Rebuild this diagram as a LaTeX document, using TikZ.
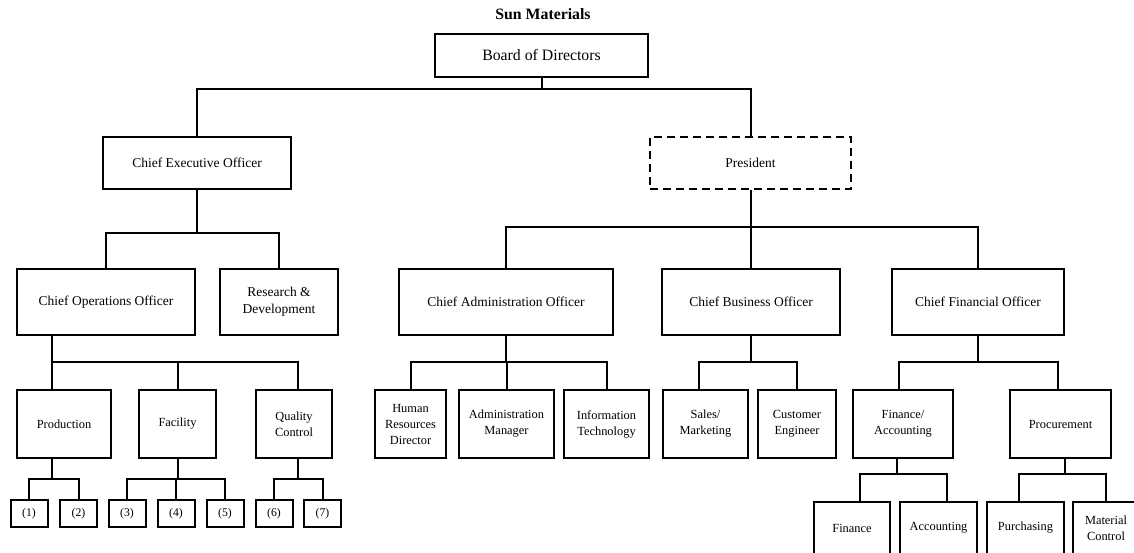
\documentclass[tikz,border=0pt]{standalone}
\usepackage{fontspec}
\setmainfont{Liberation Serif}
\usetikzlibrary{positioning}
\tikzstyle{block}     = [rectangle, draw=black, line width=2pt, align=center, inner sep=2pt,
    font=\fontsize{13.5}{17.5}\selectfont]
\tikzstyle{topblock}  = [block, font=\fontsize{15.8}{18}\selectfont]
\tikzstyle{headblock} = [block, minimum height=52pt]
\tikzstyle{offblock}  = [block, minimum height=66pt]
\tikzstyle{unitblock} = [block, minimum height=68pt, font=\fontsize{12.4}{16}\selectfont]
\tikzstyle{subblock}  = [unitblock, minimum height=52pt]
\tikzstyle{numblock}  = [block, minimum width=37pt, minimum height=27pt,
    font=\fontsize{11.7}{14}\selectfont]
\tikzstyle{vacant}    = [headblock, dash pattern=on 8pt off 5pt]

\begin{document}
\begin{tikzpicture}[x=1pt, y=-1pt, line width=2pt]
  \useasboundingbox (0,0) rectangle (1134,553);
  \clip (0,0) rectangle (1134,553);

  \node[font=\bfseries\fontsize{15.8}{18}\selectfont] (title) at (543,14) {Sun Materials};
  \node[topblock, minimum width=213pt, minimum height=43pt] (board) at (541.5,55.5) {Board of Directors};

  % second level
  \node[headblock, minimum width=188pt] (ceo)  at (197,163)   {Chief Executive Officer};
  \node[vacant,    minimum width=201pt] (pres) at (750.5,163) {President};

  % officers
  \node[offblock, minimum width=178pt] (coo) at (106,302)  {Chief Operations Officer};
  \node[offblock, minimum width=118pt] (rnd) at (279,302)  {Research \&\\Development};
  \node[offblock, minimum width=214pt] (cao) at (506,302)  {Chief Administration Officer};
  \node[offblock, minimum width=178pt] (cbo) at (751,302)  {Chief Business Officer};
  \node[offblock, minimum width=172pt] (cfo) at (978,302)  {Chief Financial Officer};

  % units
  \node[unitblock, minimum width=94pt]  (prod)  at (64,424)     {Production};
  \node[unitblock, minimum width=77pt]  (fac)   at (177.5,424)  {Facility};
  \node[unitblock, minimum width=76pt]  (qc)    at (294,424)    {Quality\\Control};
  \node[unitblock, minimum width=71pt]  (hr)    at (410.5,424)  {Human\\Resources\\Director};
  \node[unitblock, minimum width=95pt]  (adm)   at (506.5,424)  {Administration\\Manager};
  \node[unitblock, minimum width=85pt]  (it)    at (606.5,424)  {Information\\Technology};
  \node[unitblock, minimum width=85pt]  (sales) at (705.5,424)  {Sales/\\Marketing};
  \node[unitblock, minimum width=78pt]  (ce)    at (797,424)    {Customer\\Engineer};
  \node[unitblock, minimum width=100pt] (fa)    at (903,424)    {Finance/\\Accounting};
  \node[unitblock, minimum width=101pt] (proc)  at (1060.5,424) {Procurement};

  % numbered lines
  \node[numblock] (n1) at (29,513.5)    {(1)};
  \node[numblock] (n2) at (78.5,513.5)  {(2)};
  \node[numblock] (n3) at (127,513.5)   {(3)};
  \node[numblock] (n4) at (176,513.5)   {(4)};
  \node[numblock] (n5) at (225,513.5)   {(5)};
  \node[numblock] (n6) at (274,513.5)   {(6)};
  \node[numblock] (n7) at (322.5,513.5) {(7)};

  \node[subblock, minimum width=76pt] (fin) at (852,528)    {Finance};
  \node[subblock, minimum width=77pt] (acc) at (938.5,528)  {Accounting};
  \node[subblock, minimum width=77pt] (pur) at (1025.5,528) {Purchasing};
  \node[subblock, minimum width=66pt] (mat) at (1106,528)   {Material\\Control};

  \draw (board.south) -- ++(0,11) -| (ceo.north)
        (board.south) -- ++(0,11) -| (pres.north);
  \draw (ceo.south) -- ++(0,43) -| (coo.north)
        (ceo.south) -- ++(0,43) -| (rnd.north);
  \draw (pres.south) -- ++(0,37) -| (cao.north)
        (pres.south) -- ++(0,37) -| (cbo.north)
        (pres.south) -- ++(0,37) -| (cfo.north);
  \draw ([xshift=-54pt]coo.south) -- ++(0,26) -| ([xshift=-12pt]prod.north)
        ([xshift=-54pt]coo.south) -- ++(0,26) -| (fac.north)
        ([xshift=-54pt]coo.south) -- ++(0,26) -| ([xshift=4pt]qc.north);
  \draw (cao.south) -- ++(0,26) -| (hr.north)
        (cao.south) -- ++(0,26) -| (adm.north)
        (cao.south) -- ++(0,26) -| (it.north);
  \draw (cbo.south) -- ++(0,26) -| ([xshift=-7pt]sales.north)
        (cbo.south) -- ++(0,26) -| (ce.north);
  \draw (cfo.south) -- ++(0,26) -| ([xshift=-4pt]fa.north)
        (cfo.south) -- ++(0,26) -| ([xshift=-3pt]proc.north);
  \draw ([xshift=-12pt]prod.south) -- ++(0,20) -| (n1.north)
        ([xshift=-12pt]prod.south) -- ++(0,20) -| (n2.north);
  \draw (fac.south) -- ++(0,20) -| (n3.north)
        (fac.south) -- ++(0,20) -| (n4.north)
        (fac.south) -- ++(0,20) -| (n5.north);
  \draw ([xshift=4pt]qc.south) -- ++(0,20) -| (n6.north)
        ([xshift=4pt]qc.south) -- ++(0,20) -| (n7.north);
  \draw ([xshift=-6pt]fa.south) -- ++(0,15) -| ([xshift=8pt]fin.north)
        ([xshift=-6pt]fa.south) -- ++(0,15) -| ([xshift=8pt]acc.north);
  \draw ([xshift=4pt]proc.south) -- ++(0,15) -| ([xshift=-7pt]pur.north)
        ([xshift=4pt]proc.south) -- ++(0,15) -| (mat.north);
\end{tikzpicture}
\end{document}
